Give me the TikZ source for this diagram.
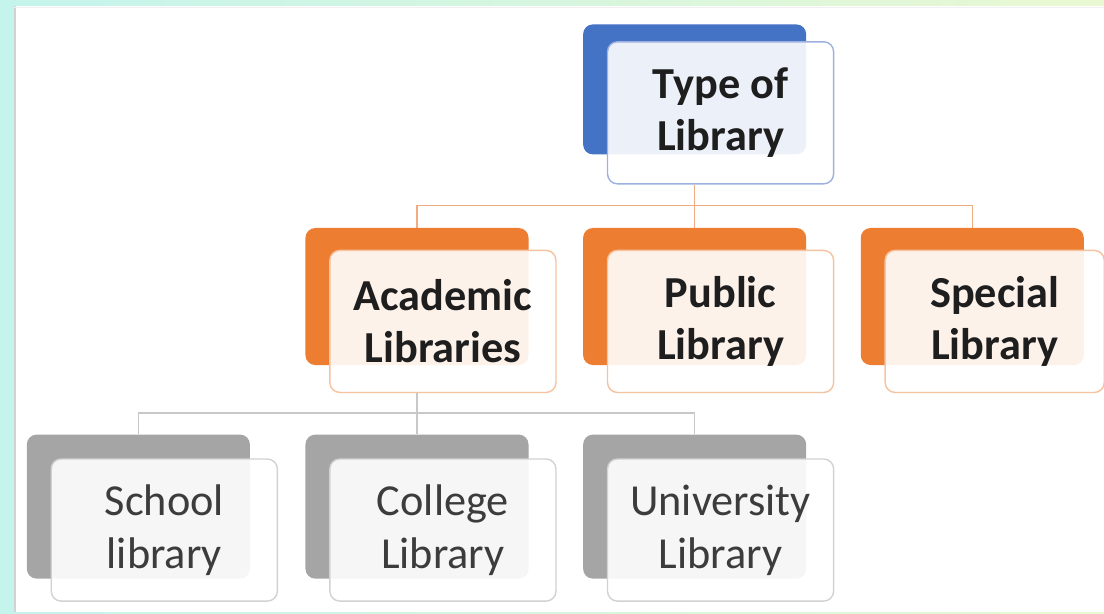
\documentclass[tikz,border=0pt]{standalone}
\usepackage{fontspec}
\setmainfont{Carlito}
\usetikzlibrary{positioning, backgrounds}
\definecolor{bgaqua}{HTML}{C4F4EC}
\definecolor{bglime}{HTML}{E9F8D2}
\definecolor{rootblue}{HTML}{4472C4}
\definecolor{rootedge}{HTML}{9DB0E0}
\definecolor{typeorange}{HTML}{ED7D31}
\definecolor{typeedge}{HTML}{F6C3A0}
\definecolor{typeline}{HTML}{F2AC82}
\definecolor{subgray}{HTML}{A5A5A5}
\definecolor{subedge}{HTML}{D2D2D2}
\definecolor{subline}{HTML}{C8C8C8}
\definecolor{inkdark}{HTML}{1E1E1E}
\definecolor{inkgray}{HTML}{3C3C3C}

\begin{document}
\begin{tikzpicture}[
    x=0.025cm, y=-0.025cm,
    node distance=1.35cm,
    backbox/.style={rounded corners=7pt, minimum width=5.575cm, minimum height=3.425cm, inner sep=0pt},
    frontbox/.style={draw, rounded corners=7pt, minimum width=5.65cm, minimum height=3.55cm,
                     line width=1pt, fill=white, fill opacity=0.9, text opacity=1, align=center},
    boldfront/.style={frontbox, text=inkdark, font=\fontsize{31.5}{37}\selectfont\bfseries},
    plainfront/.style={frontbox, text=inkgray, font=\fontsize{31.5}{38}\selectfont},
    link/.style={line width=1pt},
]
\useasboundingbox (0,0) rectangle (1104,613);

% Page
\begin{scope}[on background layer]
\fill[left color=bgaqua, right color=bglime] (0,0) rectangle (1104,613);
\fill[white] (14,6) rectangle (1104,612);
\draw[gray!35, line width=1.5pt] (15,6) -- (15,612);
\draw[gray!12] (14,7) -- (1104,7);
\end{scope}

% Second level
\node[backbox, fill=typeorange] (acadback) at (417,296.5) {};
\node[backbox, fill=typeorange, right=of acadback] (pubback) {};
\node[backbox, fill=typeorange, right=of pubback] (specback) {};

% Root
\node[backbox, fill=rootblue, minimum height=3.25cm, above=1.825cm of pubback] (rootback) {};
\node[boldfront, draw=rootedge, below right=0.425cm and 0.6cm of rootback.north west] (root) {Type of\\Library};

\node[boldfront, draw=typeedge, below right=0.55cm and 0.6cm of acadback.north west] (acad) {Academic\\Libraries};
\node[boldfront, draw=typeedge, below right=0.55cm and 0.6cm of pubback.north west] (pub) {Public\\Library};
\node[boldfront, draw=typeedge, minimum width=5.475cm, below right=0.55cm and 0.6cm of specback.north west] (spec) {Special\\Library};

% Third level
\node[backbox, fill=subgray, minimum height=3.6cm, below=1.725cm of acadback] (collback) {};
\node[backbox, fill=subgray, minimum height=3.6cm, left=1.375cm of collback] (schoolback) {};
\node[backbox, fill=subgray, minimum height=3.6cm, right=of collback] (univback) {};

\node[plainfront, draw=subedge, below right=0.6cm and 0.6cm of schoolback.north west] (school) {School\\library};
\node[plainfront, draw=subedge, below right=0.6cm and 0.6cm of collback.north west] (coll) {College\\Library};
\node[plainfront, draw=subedge, below right=0.6cm and 0.6cm of univback.north west] (univ) {University\\Library};

% Connectors
\begin{scope}[on background layer]
\draw[link, draw=typeline] (rootback.center |- root.south) -- ++(0,21) coordinate (bus1);
\draw[link, draw=typeline] (acadback.north) |- (bus1) -| (specback.north);
\draw[link, draw=typeline] (bus1) -- (pubback.north);

\draw[link, draw=subline] (acadback.center |- acad.south) -- ++(0,20) coordinate (bus2);
\draw[link, draw=subline] (schoolback.north) |- (bus2) -| (univback.north);
\draw[link, draw=subline] (bus2) -- (collback.north);
\end{scope}

\end{tikzpicture}
\end{document}
